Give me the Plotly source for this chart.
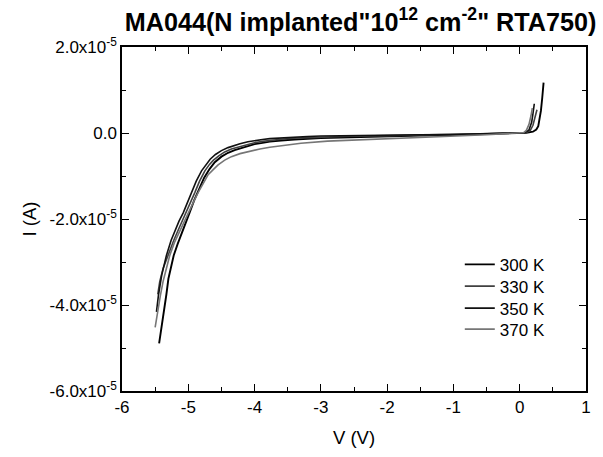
import plotly.graph_objects as go

# Values (current in units of 1e-5 A)
SCALE = 1e-5

v_300 = [-5.44, -5.40, -5.36, -5.33, -5.30, -5.26, -5.22, -5.16, -5.10, -5.04, -4.98, -4.91, -4.83, -4.76, -4.68, -4.60, -4.50, -4.40, -4.30, -4.22, -4.10, -4.00, -3.88, -3.77, -3.60, -3.40, -3.00, -2.56, -2.00, -1.50, -1.05, -0.50, 0.00, 0.10, 0.20, 0.25, 0.28, 0.30, 0.32, 0.34, 0.36]
i_300 = [-4.89, -4.50, -4.10, -3.75, -3.39, -3.10, -2.85, -2.58, -2.35, -2.10, -1.85, -1.56, -1.28, -1.04, -0.84, -0.68, -0.55, -0.46, -0.40, -0.36, -0.30, -0.26, -0.23, -0.20, -0.175, -0.15, -0.12, -0.10, -0.08, -0.06, -0.05, -0.025, 0.0, 0.005, 0.03, 0.08, 0.16, 0.30, 0.52, 0.82, 1.17]

v_330 = [-5.46, -5.43, -5.38, -5.30, -5.22, -5.15, -5.09, -5.03, -4.96, -4.90, -4.83, -4.75, -4.68, -4.62, -4.54, -4.45, -4.35, -4.22, -4.10, -4.00, -3.88, -3.77, -3.60, -3.40, -3.20, -3.00, -2.56, -2.00, -1.50, -1.05, -0.50, 0.00, 0.10, 0.16, 0.20, 0.23, 0.26]
i_330 = [-3.75, -3.45, -3.15, -2.80, -2.50, -2.25, -2.05, -1.85, -1.60, -1.38, -1.12, -0.88, -0.73, -0.63, -0.53, -0.44, -0.37, -0.31, -0.26, -0.225, -0.195, -0.17, -0.145, -0.12, -0.105, -0.09, -0.074, -0.06, -0.048, -0.037, -0.02, 0.0, 0.01, 0.06, 0.18, 0.34, 0.54]

v_350 = [-5.48, -5.45, -5.40, -5.33, -5.26, -5.20, -5.14, -5.075, -5.01, -4.95, -4.88, -4.80, -4.73, -4.67, -4.59, -4.50, -4.40, -4.30, -4.22, -4.10, -4.00, -3.88, -3.77, -3.60, -3.40, -3.20, -3.00, -2.56, -2.00, -1.50, -1.05, -0.50, 0.00, 0.08, 0.14, 0.18, 0.20, 0.22]
i_350 = [-4.16, -3.77, -3.30, -2.85, -2.50, -2.25, -2.05, -1.85, -1.60, -1.38, -1.12, -0.88, -0.72, -0.61, -0.50, -0.41, -0.34, -0.285, -0.25, -0.205, -0.175, -0.15, -0.13, -0.11, -0.09, -0.08, -0.07, -0.058, -0.045, -0.04, -0.035, -0.02, 0.0, 0.01, 0.07, 0.25, 0.45, 0.68]

v_370 = [-5.50, -5.46, -5.42, -5.38, -5.33, -5.28, -5.21, -5.15, -5.08, -5.00, -4.92, -4.85, -4.77, -4.70, -4.62, -4.55, -4.45, -4.35, -4.22, -4.07, -3.92, -3.77, -3.55, -3.30, -2.90, -2.56, -2.00, -1.50, -1.05, -0.50, 0.00, 0.06, 0.10, 0.14, 0.17, 0.19]
i_370 = [-4.52, -4.10, -3.77, -3.45, -3.15, -2.85, -2.55, -2.35, -2.10, -1.85, -1.60, -1.38, -1.15, -0.97, -0.845, -0.74, -0.63, -0.55, -0.48, -0.42, -0.37, -0.33, -0.28, -0.24, -0.19, -0.166, -0.13, -0.10, -0.075, -0.04, 0.0, 0.01, 0.06, 0.20, 0.40, 0.58]

series_names = ["300 K", "330 K", "350 K", "370 K"]
series_colors = ["#000000", "#404040", "#111111", "#767676"]
series_widths = [1.9, 1.6, 1.6, 1.6]

x_ticks = [-6, -5, -4, -3, -2, -1, 0, 1]
y_tickvals = [2e-5, 0.0, -2e-5, -4e-5, -6e-5]
y_ticktext = ["2.0x10<sup>-5</sup>", "0.0", "-2.0x10<sup>-5</sup>", "-4.0x10<sup>-5</sup>", "-6.0x10<sup>-5</sup>"]

FONT = "Liberation Sans, Arial, sans-serif"

legend_ids = ["legend", "legend2", "legend3", "legend4"]
legend_tops = [0.419, 0.356, 0.292, 0.231]

fig = go.Figure()
for name, color, width, lid, vx, iy in zip(series_names, series_colors, series_widths, legend_ids,
                                          [v_300, v_330, v_350, v_370],
                                          [i_300, i_330, i_350, i_370]):
    fig.add_trace(go.Scatter(
        x=vx, y=[val * SCALE for val in iy], mode="lines", name=name,
        line=dict(color=color, width=width), legend=lid, showlegend=True,
    ))

axis_common = dict(
    showline=True, linecolor="black", linewidth=1.5, mirror="ticks",
    ticks="inside", ticklen=7, tickwidth=1.2, tickcolor="black",
    showgrid=False, zeroline=False,
    tickfont=dict(family=FONT, size=17, color="black"),
)

fig.update_xaxes(
    range=[-6, 1], tickvals=x_ticks, ticktext=[str(t) for t in x_ticks],
    minor=dict(dtick=0.5, ticks="inside", ticklen=4, tickwidth=1.2, tickcolor="black", showgrid=False),
    title=dict(text="V (V)", font=dict(family=FONT, size=18.5, color="black"), standoff=15),
    **axis_common,
)
fig.update_yaxes(
    range=[-6e-5, 2e-5], tickvals=y_tickvals, ticktext=y_ticktext,
    minor=dict(dtick=1e-5, ticks="inside", ticklen=4, tickwidth=1.2, tickcolor="black", showgrid=False),
    title=dict(text="I (A)", font=dict(family=FONT, size=18.5, color="black"), standoff=8),
    **axis_common,
)

legend_style = dict(
    x=0.728, xanchor="left", yanchor="top",
    bgcolor="rgba(0,0,0,0)", borderwidth=0,
    font=dict(family=FONT, size=17, color="black"),
    itemwidth=30, visible=True,
)

fig.update_layout(
    width=603, height=457,
    margin=dict(l=122, r=17, t=47, b=64),
    paper_bgcolor="white", plot_bgcolor="white",
    font=dict(family=FONT, color="black"),
    showlegend=True,
    title=dict(
        text='<b>MA044(N implanted"10<sup>12</sup> cm<sup>-2</sup>" RTA750)</b>',
        font=dict(family=FONT, size=25.2, color="black"),
        x=0.598, xref="container", xanchor="center",
        y=0.952, yref="container", yanchor="middle",
    ),
    legend=dict(y=legend_tops[0], **legend_style),
    legend2=dict(y=legend_tops[1], **legend_style),
    legend3=dict(y=legend_tops[2], **legend_style),
    legend4=dict(y=legend_tops[3], **legend_style),
)

fig.write_html("out.html")
